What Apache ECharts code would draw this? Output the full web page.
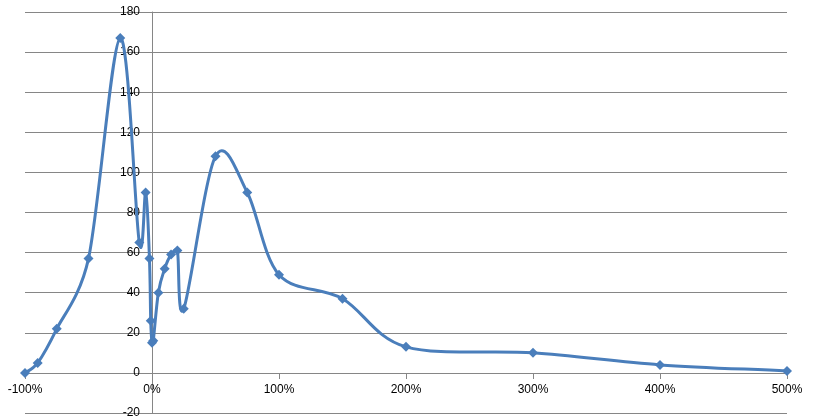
<!DOCTYPE html>
<html>
<head>
<meta charset="utf-8">
<script src="https://cdn.jsdelivr.net/npm/echarts@6/dist/echarts.min.js"></script>
<style>
html,body{margin:0;padding:0;background:#fff;}
#c{width:814px;height:420px;}
</style>
</head>
<body>
<div id="c"></div>
<script>
// x values (percent change) and counts
var xPercent = [-100, -90, -75, -50, -25, -10, -5, -2, -1, 0, 1, 5, 10, 15, 20, 25, 50, 75, 100, 150, 200, 300, 400, 500];
var counts   = [0, 5, 22, 57, 167, 65, 90, 57, 26, 15, 16, 40, 52, 59, 61, 32, 108, 90, 49, 37, 13, 10, 4, 1];
var yTicks = { min: -20, max: 180, step: 20 };
var xTicks = { min: -100, max: 500, step: 100 };

var points = xPercent.map(function (x, i) { return [x, counts[i]]; });

var gridColor = '#868686';
var seriesColor = '#4A7EBB';
var font = '"Liberation Sans", Arial, sans-serif';

function dist(a, b) { return Math.sqrt((a[0]-b[0])*(a[0]-b[0]) + (a[1]-b[1])*(a[1]-b[1])); }

// Excel-like Bezier smoothing of one segment (in pixel space)
function segment(p0, p1, p2, p3, firstPt, lastPt) {
  var d02 = dist(p0, p2), d12 = dist(p1, p2), d13 = dist(p1, p3);
  var b1, b2, f;
  function add(p, v, k) { return [p[0] + v[0]*k, p[1] + v[1]*k]; }
  var v1 = [p2[0]-p0[0], p2[1]-p0[1]];
  var v2 = [p3[0]-p1[0], p3[1]-p1[1]];
  if (d02/6 < d12/2 && d13/6 < d12/2) {
    f = firstPt ? 1/3 : 1/6;
    b1 = add(p1, v1, f);
    f = lastPt ? 1/3 : 1/6;
    b2 = add(p2, v2, -f);
  } else if (d02/6 >= d12/2 && d13/6 >= d12/2) {
    b1 = add(p1, v1, d12/2/d02);
    b2 = add(p2, v2, -d12/2/d13);
  } else if (d02/6 >= d12/2) {
    b1 = add(p1, v1, d12/2/d02);
    b2 = add(p2, v2, -d12/2/d02);
  } else {
    b1 = add(p1, v1, d12/2/d13);
    b2 = add(p2, v2, -d12/2/d13);
  }
  return { b1: b1, b2: b2 };
}

var chart = echarts.init(document.getElementById('c'), null, { renderer: 'canvas' });
chart.setOption({
  animation: false,
  grid: { left: 25, right: 27, top: 12, bottom: 7, containLabel: false, outerBoundsMode: 'none' },
  xAxis: {
    type: 'value', position: 'bottom', offset: -40,
    min: xTicks.min, max: xTicks.max, interval: xTicks.step,
    axisLine: { show: true, onZero: false, lineStyle: { color: gridColor, width: 1 } },
    axisTick: { show: true, inside: false, length: 6, lineStyle: { color: gridColor } },
    axisLabel: { margin: 11, color: '#000', fontSize: 12, fontFamily: font,
      formatter: function (v) { return v + '%'; } },
    splitLine: { show: false }
  },
  yAxis: {
    type: 'value', position: 'left', offset: -127,
    min: yTicks.min, max: yTicks.max, interval: yTicks.step,
    axisLine: { show: true, onZero: false, lineStyle: { color: gridColor, width: 1 } },
    axisTick: { show: false },
    axisLabel: { margin: 12, color: '#000', fontSize: 12, fontFamily: font },
    splitLine: { show: true, lineStyle: { color: gridColor, width: 1 } }
  },
  series: [{
    type: 'custom',
    data: points,
    encode: { x: 0, y: 1 },
    silent: true,
    z: 2,
    renderItem: function (params, api) {
      var i = params.dataIndex, n = points.length;
      if (i >= n - 1) return null;
      var p1 = api.coord(points[i]);
      var p2 = api.coord(points[i + 1]);
      var p0 = i > 0 ? api.coord(points[i - 1]) : p1;
      var p3 = i + 2 < n ? api.coord(points[i + 2]) : p2;
      var s = segment(p0, p1, p2, p3, i === 0, i + 2 >= n);
      return {
        type: 'bezierCurve',
        shape: { x1: p1[0], y1: p1[1], x2: p2[0], y2: p2[1],
                 cpx1: s.b1[0], cpy1: s.b1[1], cpx2: s.b2[0], cpy2: s.b2[1] },
        style: { stroke: seriesColor, lineWidth: 3, fill: null, lineCap: 'round', lineJoin: 'round' }
      };
    }
  }, {
    type: 'scatter',
    data: points,
    symbol: 'diamond',
    symbolSize: 10,
    z: 3,
    itemStyle: { color: seriesColor, opacity: 1 }
  }]
});
</script>
</body>
</html>
